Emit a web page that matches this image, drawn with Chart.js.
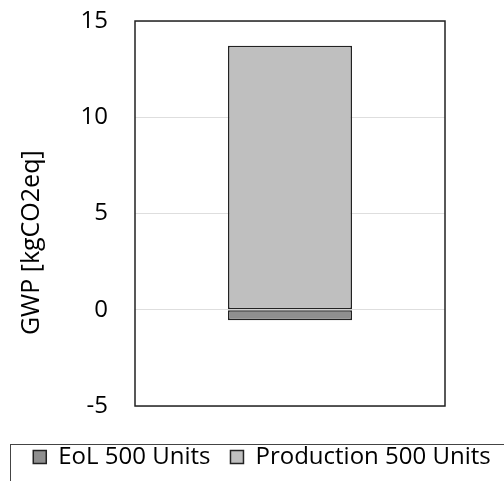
<!DOCTYPE html>
<html>
<head>
<meta charset="utf-8">
<script src="https://cdn.jsdelivr.net/npm/chart.js@4/dist/chart.umd.min.js"></script>
<style>
  html, body { margin: 0; padding: 0; background: #fff; }
  #wrap { width: 504px; height: 481px; }
</style>
</head>
<body>
<div id="wrap"><canvas id="chart" width="504" height="481"></canvas></div>
<script>
const categories = [''];
const eolValues = [-0.55];
const productionValues = [13.72];
const yTicks = [-5, 0, 5, 10, 15];

const fontFamily = "'Open Sans', 'Noto Sans', sans-serif";

// legend centred across the whole page, frames round plot and legend
const framePlugin = {
  id: 'frame',
  beforeDraw(chart) {
    const lg = chart.legend;
    lg.left = 10;
    lg.right = 514;
  },
  afterDraw(chart) {
    const ctx = chart.ctx;
    const a = chart.chartArea;
    ctx.save();
    ctx.strokeStyle = '#222';
    ctx.lineWidth = 1.5;
    ctx.strokeRect(Math.round(a.left), Math.round(a.top),
      Math.round(a.right - a.left), Math.round(a.bottom - a.top));
    ctx.strokeStyle = '#444';
    ctx.lineWidth = 1;
    ctx.strokeRect(10.5, Math.round(a.bottom) + 38.5, 520, 60);
    ctx.restore();
  }
};

new Chart('chart', {
  type: 'bar',
  data: {
    labels: categories,
    datasets: [
      {
        label: 'EoL 500 Units',
        data: eolValues,
        backgroundColor: '#8f8f8f',
        borderColor: '#222',
        borderWidth: 1.5,
        borderSkipped: false
      },
      {
        label: 'Production 500 Units',
        data: productionValues,
        backgroundColor: '#bfbfbf',
        borderColor: '#222',
        borderWidth: 1.5,
        borderSkipped: false
      }
    ]
  },
  options: {
    responsive: false,
    animation: false,
    barPercentage: 0.4,
    categoryPercentage: 1,
    layout: { padding: { left: 0, right: 0, top: 21, bottom: 2 } },
    plugins: {
      tooltip: { enabled: false },
      legend: {
        position: 'bottom',
        labels: {
          font: { family: fontFamily, size: 24 },
          color: '#000',
          boxWidth: 13,
          boxHeight: 13,
          padding: 20,
          useBorderRadius: false
        }
      }
    },
    scales: {
      x: {
        stacked: true,
        grid: { display: false },
        border: { display: false },
        ticks: { display: false },
        afterFit(axis) {
          axis.height = 19;
        }
      },
      y: {
        stacked: true,
        min: -5,
        max: 15,
        afterBuildTicks(axis) {
          axis.ticks = yTicks.map(v => ({ value: v }));
        },
        afterFit(axis) {
          axis.width = 135;
          axis.paddingTop = 0;
          axis.paddingBottom = 0;
        },
        grid: { color: '#dedede', drawTicks: false },
        border: { display: false },
        ticks: {
          font: { family: fontFamily, size: 24 },
          color: '#000',
          padding: 27
        },
        title: {
          display: true,
          text: 'GWP [kgCO2eq]         ',
          font: { family: fontFamily, size: 25 },
          color: '#000',
          padding: { top: 17, bottom: 0 }
        }
      },
      // empty space right of the plot
      yRight: {
        type: 'linear',
        position: 'right',
        grid: { display: false },
        border: { display: false },
        ticks: { display: false },
        afterFit(axis) {
          axis.width = 59;
          axis.paddingTop = 0;
          axis.paddingBottom = 0;
        }
      }
    }
  },
  plugins: [framePlugin]
});
</script>
</body>
</html>
